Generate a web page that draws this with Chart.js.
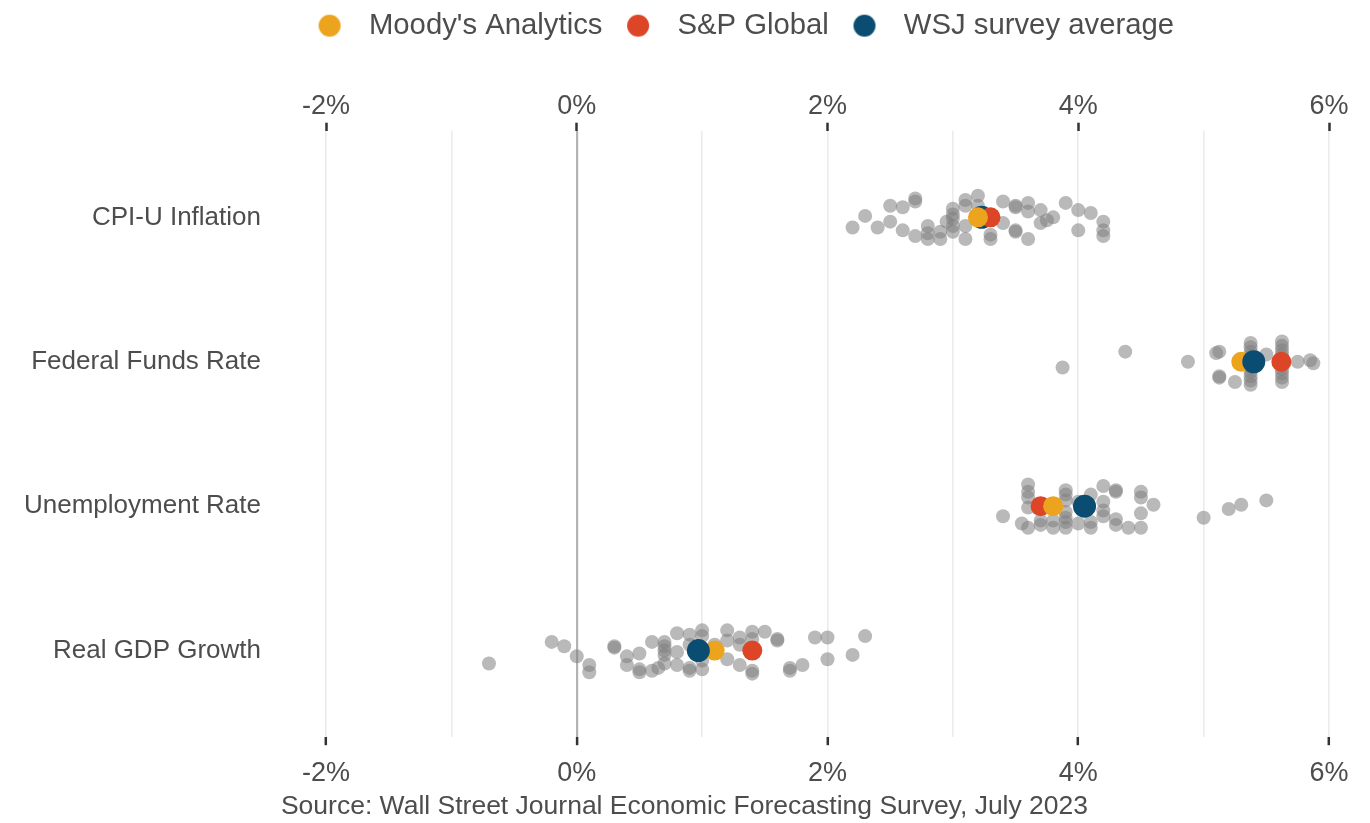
<!DOCTYPE html>
<html>
<head>
<meta charset="utf-8">
<script src="https://cdn.jsdelivr.net/npm/chart.js@4.4.1/dist/chart.umd.min.js"></script>
<style>
  html, body { margin: 0; padding: 0; background: #fff; }
  #wrap { width: 1370px; height: 823px; }
</style>
</head>
<body>
<div id="wrap"><canvas id="forecastChart" width="1370" height="823"></canvas></div>
<script>
// categories, top to bottom
const categories = ['CPI-U Inflation', 'Federal Funds Rate', 'Unemployment Rate', 'Real GDP Growth'];

// individual forecasts (percent) and their vertical jitter (in category units)
const cpiX = [2.2, 2.3, 2.4, 2.5, 2.5, 2.6, 2.6, 2.7, 2.7, 2.7, 2.8, 2.8, 2.8, 2.9, 2.9, 2.95,
  3.0, 3.0, 3.0, 3.0, 3.0, 3.1, 3.1, 3.1, 3.1, 3.2, 3.2, 3.2, 3.3, 3.3, 3.4, 3.4,
  3.5, 3.5, 3.5, 3.5, 3.6, 3.6, 3.6, 3.7, 3.7, 3.75, 3.8, 3.9, 4.0, 4.0, 4.1, 4.2, 4.2, 4.2];
const cpiJitter = [0.07, -0.01, 0.07, -0.08, 0.03, -0.07, 0.09, -0.13, -0.11, 0.13, 0.06, 0.11, 0.15, 0.10, 0.15, 0.03,
  -0.06, -0.02, 0.01, 0.06, 0.10, -0.12, -0.08, 0.06, 0.15, -0.15, -0.08, 0.01, 0.12, 0.15, -0.11, 0.04,
  -0.08, -0.07, 0.09, 0.10, -0.10, -0.04, 0.15, -0.05, 0.04, 0.02, 0.00, -0.10, -0.05, 0.09, -0.03, 0.03, 0.09, 0.13];

const fedX = [3.875, 4.375, 4.875, 5.1, 5.125, 5.125, 5.125, 5.25,
  5.375, 5.375, 5.375, 5.375, 5.375, 5.375, 5.375, 5.375, 5.375, 5.5,
  5.625, 5.625, 5.625, 5.625, 5.625, 5.625, 5.625, 5.625, 5.75, 5.85, 5.875];
const fedJitter = [0.04, -0.07, 0.00, -0.06, -0.07, 0.10, 0.11, 0.14,
  -0.13, -0.10, -0.07, -0.04, 0.04, 0.07, 0.10, 0.13, 0.16, -0.05,
  -0.14, -0.11, -0.08, -0.05, 0.05, 0.08, 0.11, 0.14, 0.00, -0.01, 0.01];

const unempX = [3.4, 3.55, 3.6, 3.6, 3.6, 3.6, 3.6, 3.7, 3.7, 3.8, 3.8,
  3.9, 3.9, 3.9, 3.9, 3.9, 3.9, 3.9, 4.0, 4.0, 4.1, 4.1, 4.1,
  4.2, 4.2, 4.2, 4.2, 4.3, 4.3, 4.3, 4.3, 4.4, 4.5, 4.5, 4.5, 4.5, 4.6, 5.0, 5.2, 5.3, 5.5];
const unempJitter = [0.07, 0.12, -0.15, -0.10, -0.06, 0.01, 0.15, 0.10, 0.13, 0.10, 0.15,
  -0.11, -0.08, -0.04, 0.04, 0.08, 0.11, 0.15, -0.03, 0.12, -0.08, 0.11, 0.15,
  -0.14, -0.03, 0.03, 0.07, -0.11, -0.10, 0.09, 0.13, 0.15, -0.10, -0.06, 0.05, 0.15, -0.01, 0.08, 0.02, -0.01, -0.04];

const gdpX = [-0.7, -0.2, -0.1, 0.0, 0.1, 0.1, 0.3, 0.3, 0.4, 0.4, 0.5, 0.5, 0.5, 0.6, 0.6, 0.65,
  0.7, 0.7, 0.7, 0.7, 0.7, 0.8, 0.8, 0.8, 0.9, 0.9, 0.9, 0.9, 1.0, 1.0, 1.0, 1.0, 1.1,
  1.2, 1.2, 1.2, 1.3, 1.3, 1.3, 1.4, 1.4, 1.4, 1.4, 1.5, 1.6, 1.6, 1.7, 1.7, 1.8, 1.9, 2.0, 2.0, 2.2, 2.3];
const gdpJitter = [0.09, -0.06, -0.03, 0.04, 0.10, 0.15, -0.03, -0.02, 0.04, 0.10, 0.02, 0.13, 0.15, -0.06, 0.14, 0.12,
  -0.06, -0.03, 0.00, 0.03, 0.09, -0.12, 0.01, 0.10, -0.11, -0.04, 0.12, 0.14, -0.14, -0.10, 0.07, 0.13, -0.04,
  -0.14, -0.07, 0.06, -0.09, -0.04, 0.10, -0.13, -0.08, 0.14, 0.16, -0.13, -0.08, -0.07, 0.12, 0.14, 0.10, -0.09, -0.09, 0.06, 0.03, -0.10];

// highlighted forecasts, one per category
const moodys = [3.2, 5.3, 3.8, 1.1];
const spGlobal = [3.3, 5.62, 3.7, 1.4];
const wsjAverage = [3.23, 5.4, 4.05, 0.97];

const xTickValues = [-2, -1, 0, 1, 2, 3, 4, 5, 6];

const textColor = '#4d4d4d';
const fontFamily = "'Liberation Sans', Arial, sans-serif";

const grayPoints = [];
[[cpiX, cpiJitter], [fedX, fedJitter], [unempX, unempJitter], [gdpX, gdpJitter]].forEach(([xs, js], i) => {
  xs.forEach((x, k) => grayPoints.push({ x: x, y: i + js[k] }));
});

const onCategories = (vals, skip) => vals
  .map((x, i) => ({ x: x, y: i }))
  .filter((p, i) => !skip || !skip.includes(i));

const isLabelTick = v => Math.abs(v % 2) < 1e-9;

// legend dot drawn a bit left of its box centre, so the text sits further away
function legendDot(color) {
  const c = document.createElement('canvas');
  c.width = 44;
  c.height = 24;
  const g = c.getContext('2d');
  g.fillStyle = color;
  g.beginPath();
  g.arc(12, 12, 11, 0, Math.PI * 2);
  g.fill();
  return c;
}

// nudge legend and source line into place once the layout is done
const boxShift = {
  id: 'boxShift',
  afterLayout(chart) {
    const lg = chart.legend;
    if (lg) {
      lg.left += 85; lg.right += 85;
      lg.top -= 40; lg.bottom -= 40;
    }
    const src = chart.boxes.find(b => b.options && b.options.position === 'bottom' && typeof b.options.text === 'string');
    if (src) { src.left += 20; src.right += 20; }
  }
};

const xAxisBase = {
  type: 'linear',
  min: -2,
  max: 6,
  afterBuildTicks: scale => { scale.ticks = xTickValues.map(v => ({ value: v })); },
  border: { display: false },
  ticks: {
    color: textColor,
    font: { family: fontFamily, size: 27 },
    maxRotation: 0,
    autoSkip: false,
    callback: v => isLabelTick(v) ? v + '%' : ''
  }
};

new Chart(document.getElementById('forecastChart'), {
  type: 'scatter',
  data: {
    datasets: [
      {
        label: 'Moody\'s Analytics',
        data: onCategories(moodys),
        backgroundColor: '#eca41e',
        pointRadius: 10,
        pointHoverRadius: 10,
        borderWidth: 0,
        order: 2
      },
      {
        label: 'S&P Global',
        data: onCategories(spGlobal),
        backgroundColor: '#dd4527',
        pointRadius: 10,
        pointHoverRadius: 10,
        borderWidth: 0,
        order: 3
      },
      {
        label: 'WSJ survey average',
        data: onCategories(wsjAverage, [0]),
        backgroundColor: '#0b4c72',
        pointRadius: 11.5,
        pointHoverRadius: 11.5,
        borderWidth: 0,
        order: 1
      },
      {
        label: 'wsj-under',
        data: onCategories(wsjAverage).slice(0, 1),
        backgroundColor: '#0b4c72',
        pointRadius: 11.5,
        borderWidth: 0,
        order: 4
      },
      {
        label: 'forecasters',
        data: grayPoints,
        backgroundColor: 'rgba(128,128,128,0.55)',
        pointRadius: 7,
        pointHoverRadius: 7,
        borderWidth: 0,
        order: 5
      }
    ]
  },
  plugins: [boxShift],
  options: {
    responsive: false,
    animation: false,
    devicePixelRatio: 1,
    layout: { padding: { left: 0, right: 41, top: 20, bottom: 0 } },
    plugins: {
      legend: {
        position: 'top',
        labels: {
          usePointStyle: true,
          color: textColor,
          font: { family: fontFamily, size: 29.3 },
          padding: 31,
          filter: item => item.datasetIndex < 3,
          sort: (a, b) => a.datasetIndex - b.datasetIndex,
          generateLabels: chart => Chart.defaults.plugins.legend.labels.generateLabels(chart)
            .map(item => Object.assign(item, { pointStyle: legendDot(item.fillStyle) }))
        }
      },
      subtitle: {
        display: true,
        position: 'bottom',
        text: 'Source: Wall Street Journal Economic Forecasting Survey, July 2023',
        color: textColor,
        font: { family: fontFamily, size: 26.5, weight: 'normal' },
        padding: { top: 0, bottom: 0 }
      },
      tooltip: { enabled: false }
    },
    scales: {
      x: Object.assign({}, xAxisBase, {
        position: 'bottom',
        afterFit: scale => { scale.height = 54; },
        grid: {
          color: c => (c.tick && c.tick.value === 0) ? '#b3b3b3' : '#ebebeb',
          lineWidth: c => (c.tick && c.tick.value === 0) ? 2.2 : 1.6,
          tickColor: c => (c.tick && isLabelTick(c.tick.value)) ? '#333333' : 'rgba(0,0,0,0)',
          tickWidth: 2.5,
          tickLength: 8
        },
        ticks: Object.assign({}, xAxisBase.ticks, { padding: 12 })
      }),
      x2: Object.assign({}, xAxisBase, {
        position: 'top',
        grid: {
          drawOnChartArea: false,
          tickColor: c => (c.tick && isLabelTick(c.tick.value)) ? '#333333' : 'rgba(0,0,0,0)',
          tickWidth: 2.5,
          tickLength: 8
        },
        ticks: Object.assign({}, xAxisBase.ticks, { padding: 0 })
      }),
      y: {
        type: 'linear',
        reverse: true,
        min: -0.6,
        max: 3.6,
        afterBuildTicks: scale => { scale.ticks = categories.map((c, i) => ({ value: i })); },
        afterFit: scale => { scale.width = 326; },
        border: { display: false },
        grid: { display: false, drawTicks: false },
        ticks: {
          color: textColor,
          font: { family: fontFamily, size: 26 },
          padding: 65,
          autoSkip: false,
          callback: v => categories[v]
        }
      }
    }
  }
});
</script>
</body>
</html>
